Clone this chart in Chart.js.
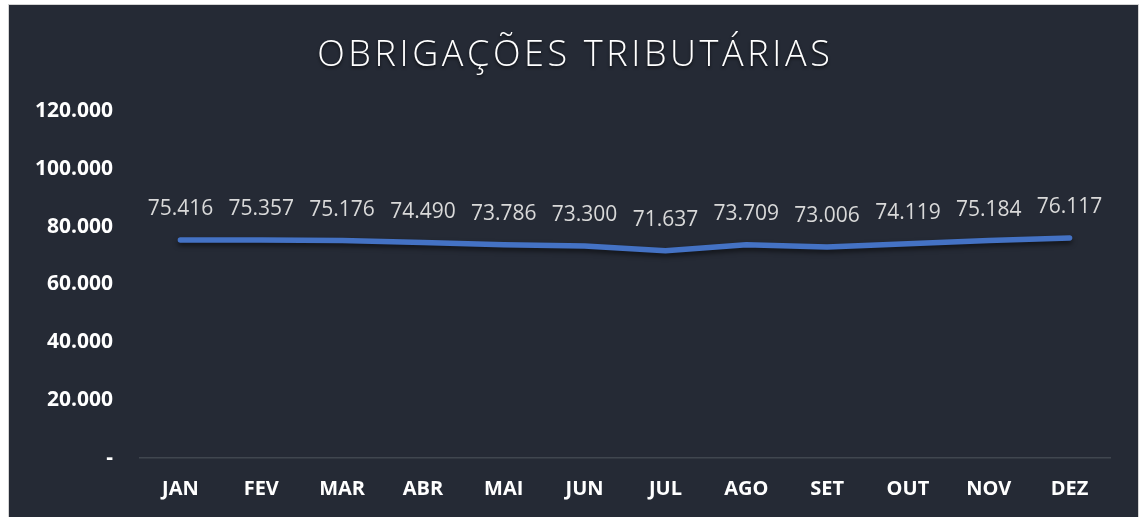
<!DOCTYPE html>
<html>
<head>
<meta charset="utf-8">
<script src="https://cdn.jsdelivr.net/npm/chart.js@4.4.1/dist/chart.umd.min.js"></script>
<style>
  html, body { margin: 0; padding: 0; background: #ffffff; width: 1142px; height: 517px; overflow: hidden; }
  #box { position: absolute; left: 8px; top: 4px; width: 1129px; height: 520px; background: #252A35; border: 1px solid #d4d4d4; }
  #wrap { position: absolute; left: 0; top: 0; width: 1129px; height: 512px; }
</style>
</head>
<body>
<div id="box"><div id="wrap"><canvas id="c" width="1129" height="512"></canvas></div></div>
<script>
const title = 'OBRIGAÇÕES TRIBUTÁRIAS';
const months = ['JAN','FEV','MAR','ABR','MAI','JUN','JUL','AGO','SET','OUT','NOV','DEZ'];
const values = [75416, 75357, 75176, 74490, 73786, 73300, 71637, 73709, 73006, 74119, 75184, 76117];
const yMin = 0;
const yMax = 120000;
const yStep = 20000;

function fmt(v) {
  return String(Math.round(v)).replace(/\B(?=(\d{3})+(?!\d))/g, '.');
}

const titlePlugin = {
  id: 'titlePlugin',
  afterDraw(chart) {
    const ctx = chart.ctx;
    ctx.save();
    ctx.font = '300 36px "Open Sans"';
    ctx.fillStyle = '#ffffff';
    ctx.textAlign = 'center';
    ctx.textBaseline = 'middle';
    if ('letterSpacing' in ctx) ctx.letterSpacing = '3.6px';
    ctx.shadowColor = 'rgba(0,0,0,0.6)';
    ctx.shadowBlur = 3;
    ctx.shadowOffsetY = 2;
    ctx.fillText(title, chart.width / 2 + 1.8, 51);
    ctx.restore();
  }
};

const labelPlugin = {
  id: 'labelPlugin',
  afterDatasetsDraw(chart) {
    const ctx = chart.ctx;
    const meta = chart.getDatasetMeta(0);
    ctx.save();
    ctx.font = '21px "Open Sans"';
    ctx.fillStyle = '#d9d9d9';
    ctx.textAlign = 'center';
    ctx.textBaseline = 'middle';
    meta.data.forEach((pt, i) => {
      ctx.fillText(fmt(values[i]), pt.x, pt.y - 31);
    });
    ctx.restore();
  }
};

const shadowPlugin = {
  id: 'shadowPlugin',
  beforeDatasetDraw(chart) {
    const ctx = chart.ctx;
    ctx.save();
    ctx.shadowColor = 'rgba(0,0,0,0.55)';
    ctx.shadowBlur = 5;
    ctx.shadowOffsetY = 3;
  },
  afterDatasetDraw(chart) {
    chart.ctx.restore();
  }
};

new Chart(document.getElementById('c'), {
  type: 'line',
  data: {
    labels: months,
    datasets: [{
      data: values,
      borderColor: '#4472C4',
      borderWidth: 5.5,
      borderCapStyle: 'round',
      borderJoinStyle: 'round',
      pointRadius: 0,
      pointHoverRadius: 0,
      tension: 0,
      fill: false
    }]
  },
  options: {
    responsive: false,
    animation: false,
    events: [],
    layout: { padding: { top: 106, left: 0, right: 28, bottom: 0 } },
    plugins: {
      legend: { display: false },
      title: { display: false },
      tooltip: { enabled: false }
    },
    scales: {
      x: {
        offset: true,
        grid: { display: false, drawTicks: false },
        border: { display: true, color: '#40464F', width: 1.5 },
        ticks: {
          color: '#ffffff',
          font: { family: '"Open Sans"', size: 20, weight: 'bold' },
          padding: 19,
          maxRotation: 0,
          autoSkip: false
        },
        afterFit(scale) { scale.height = 59; }
      },
      y: {
        min: yMin,
        max: yMax,
        grid: { display: false, drawTicks: false },
        border: { display: false },
        ticks: {
          stepSize: yStep,
          color: '#ffffff',
          font: { family: '"Open Sans"', size: 21, weight: 'bold' },
          padding: 27,
          callback: (v) => v === 0 ? '-' : fmt(v)
        },
        afterFit(scale) { scale.width = 131; }
      }
    }
  },
  plugins: [shadowPlugin, labelPlugin, titlePlugin]
});
</script>
</body>
</html>
